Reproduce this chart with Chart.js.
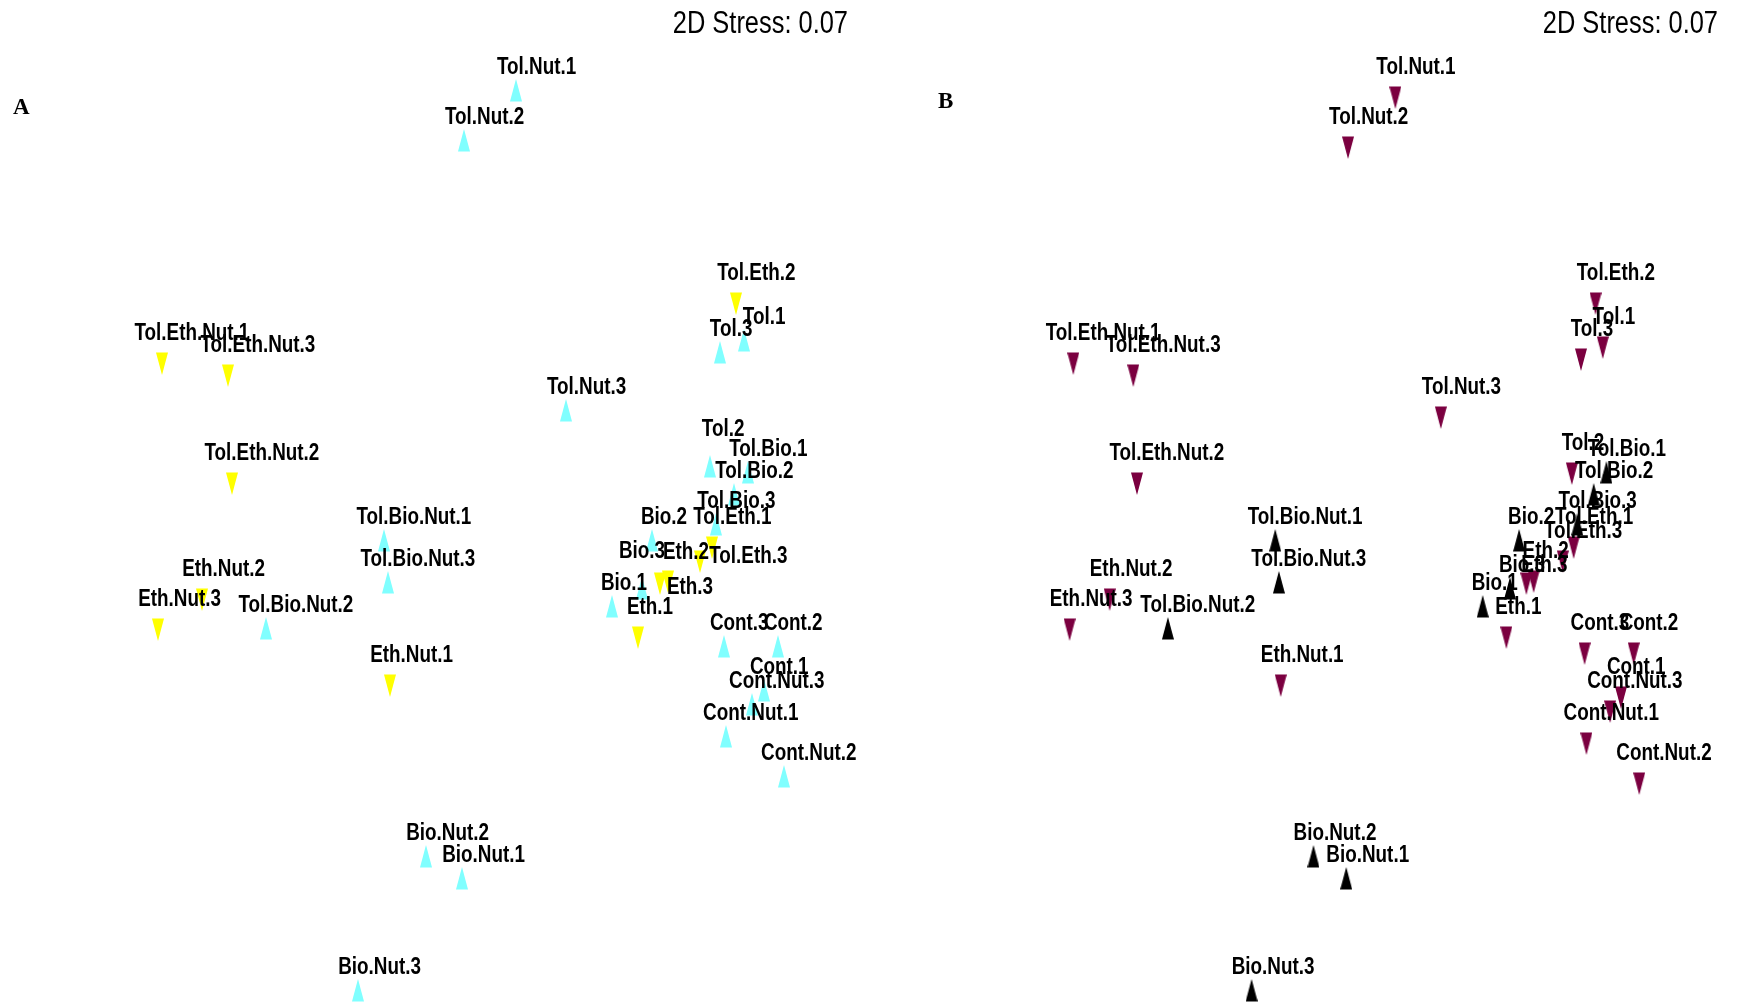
<!DOCTYPE html>
<html>
<head>
<meta charset="utf-8">
<script src="https://cdn.jsdelivr.net/npm/chart.js@4.4.1/dist/chart.umd.min.js"></script>
<style>
  body { margin: 0; background: #fff; }
  .panel { position: absolute; top: 0; width: 870px; height: 1003px; }
</style>
</head>
<body>
<div class="panel" style="left:0"><canvas id="nmds-a" width="870" height="1003"></canvas></div>
<div class="panel" style="left:870px"><canvas id="nmds-b" width="870" height="1003"></canvas></div>
<script>
// NMDS ordination scores (arbitrary MDS units)
const sampleNames = [
  'Cont.1', 'Cont.2', 'Cont.3',
  'Tol.1', 'Tol.2', 'Tol.3',
  'Bio.1', 'Bio.2', 'Bio.3',
  'Eth.1', 'Eth.2', 'Eth.3',
  'Tol.Bio.1', 'Tol.Bio.2', 'Tol.Bio.3',
  'Tol.Eth.1', 'Tol.Eth.2', 'Tol.Eth.3',
  'Cont.Nut.1', 'Cont.Nut.2', 'Cont.Nut.3',
  'Tol.Nut.1', 'Tol.Nut.2', 'Tol.Nut.3',
  'Bio.Nut.1', 'Bio.Nut.2', 'Bio.Nut.3',
  'Eth.Nut.1', 'Eth.Nut.2', 'Eth.Nut.3',
  'Tol.Bio.Nut.1', 'Tol.Bio.Nut.2', 'Tol.Bio.Nut.3',
  'Tol.Eth.Nut.1', 'Tol.Eth.Nut.2', 'Tol.Eth.Nut.3'
]
const nmdsX = [
  1.42, 1.49, 1.22,
  1.32, 1.15, 1.20,
  0.66, 0.86, 0.81,
  0.79, 0.94, 0.90,
  1.34, 1.27, 1.18,
  1.16, 1.28, 1.10,
  1.23, 1.52, 1.36,
  0.18, -0.08, 0.43,
  -0.09, -0.27, -0.61,
  -0.45, -1.39, -1.61,
  -0.48, -1.07, -0.46,
  -1.59, -1.24, -1.26
]
const nmdsY = [
  -0.87, -0.65, -0.65,
  0.88, 0.25, 0.82,
  -0.45, -0.12, -0.36,
  -0.57, -0.29, -0.30,
  0.22, 0.11, -0.04,
  -0.12, 1.10, -0.19,
  -1.10, -1.30, -0.94,
  2.13, 1.88, 0.53,
  -1.81, -1.70, -2.37,
  -0.81, -0.38, -0.53,
  -0.12, -0.56, -0.33,
  0.80, 0.20, 0.74
]
const stressText = '2D Stress: 0.07'

const narrow = 0.82

// tall thin triangle, centroid at the middle of the image
let makeTriangle = (color, up) => {
  const c = document.createElement('canvas')
  c.width = 12
  c.height = 30
  const g = c.getContext('2d')
  g.fillStyle = color
  g.beginPath()
  if (up) {
    g.moveTo(6, 0); g.lineTo(12, 22.5); g.lineTo(0, 22.5)
  } else {
    g.moveTo(0, 7.5); g.lineTo(12, 7.5); g.lineTo(6, 30)
  }
  g.closePath()
  g.fill()
  return c
}

let pointsWhere = (test) => {
  let out = []
  for (let i = 0; i < sampleNames.length; i++) {
    if (test(sampleNames[i])) out.push({ x: nmdsX[i], y: nmdsY[i], name: sampleNames[i] })
  }
  return out
}

const sampleLabels = {
  id: 'sampleLabels',
  afterDatasetsDraw(chart, args, opts) {
    const ctx = chart.ctx
    const nudge = opts.nudge || {}
    ctx.save()
    ctx.fillStyle = '#000'
    ctx.textBaseline = 'alphabetic'
    ctx.font = 'bold 23px "Liberation Sans", Arial, sans-serif'
    ctx.textAlign = 'left'
    chart.data.datasets.forEach((ds, i) => {
      chart.getDatasetMeta(i).data.forEach((pt, j) => {
        const name = ds.data[j].name
        const w = ctx.measureText(name).width * narrow
        const d = nudge[name] || [0, 0]
        ctx.save()
        ctx.translate(pt.x - 0.24 * w + d[0], pt.y - 20 + d[1])
        ctx.scale(narrow, 1)
        ctx.fillText(name, 0, 0)
        ctx.restore()
      })
    })

    // stress value, top right
    ctx.save()
    ctx.font = '31px "Liberation Sans", Arial, sans-serif'
    ctx.textAlign = 'right'
    ctx.translate(848, 33)
    ctx.scale(narrow, 1)
    ctx.fillText(stressText, 0, 0)
    ctx.restore()

    // panel letter
    ctx.font = 'bold 23px "Liberation Serif", "Times New Roman", serif'
    ctx.textAlign = 'left'
    ctx.fillText(opts.letter, opts.letterX, opts.letterY)
    ctx.restore()
  }
}

let makePanel = (id, datasets, xMin, xMax, letter, letterX, letterY, nudge) => {
  return new Chart(document.getElementById(id), {
    type: 'scatter',
    data: { datasets: datasets },
    options: {
      responsive: false,
      animation: false,
      devicePixelRatio: 1,
      layout: { autoPadding: false, padding: 0 },
      scales: {
        x: { type: 'linear', display: false, min: xMin, max: xMax },
        y: { type: 'linear', display: false, min: -2.415, max: 2.6 }
      },
      plugins: {
        legend: { display: false },
        tooltip: { enabled: false },
        sampleLabels: { letter: letter, letterX: letterX, letterY: letterY, nudge: nudge }
      }
    },
    plugins: [sampleLabels]
  })
}

// A: ethylene treatments vs the rest (a few labels were shifted by hand in the original)
makePanel('nmds-a', [
  {
    data: pointsWhere(n => !n.includes('Eth')),
    pointStyle: makeTriangle('#80ffff', true),
    pointRadius: 6,
    clip: false
  },
  {
    data: pointsWhere(n => n.includes('Eth')),
    pointStyle: makeTriangle('#ffff00', false),
    pointRadius: 6,
    clip: false
  }
], -2.4, 1.95, 'A', 13, 114, {
  'Tol.1': [9, 0],
  'Tol.2': [2, -14],
  'Tol.Eth.3': [28, 25],
  'Bio.3': [-12, -14],
  'Eth.2': [6, 1],
  'Eth.3': [18, 34]
})

// B: biochar treatments vs the rest
makePanel('nmds-b', [
  {
    data: pointsWhere(n => !n.includes('Bio')),
    pointStyle: makeTriangle('#7b0040', false),
    pointRadius: 6,
    clip: false
  },
  {
    data: pointsWhere(n => n.includes('Bio')),
    pointStyle: makeTriangle('#000000', true),
    pointRadius: 6,
    clip: false
  }
], -2.707, 2.074, 'B', 68, 108, {
  'Eth.3': [6, 12]
})
</script>
</body>
</html>
